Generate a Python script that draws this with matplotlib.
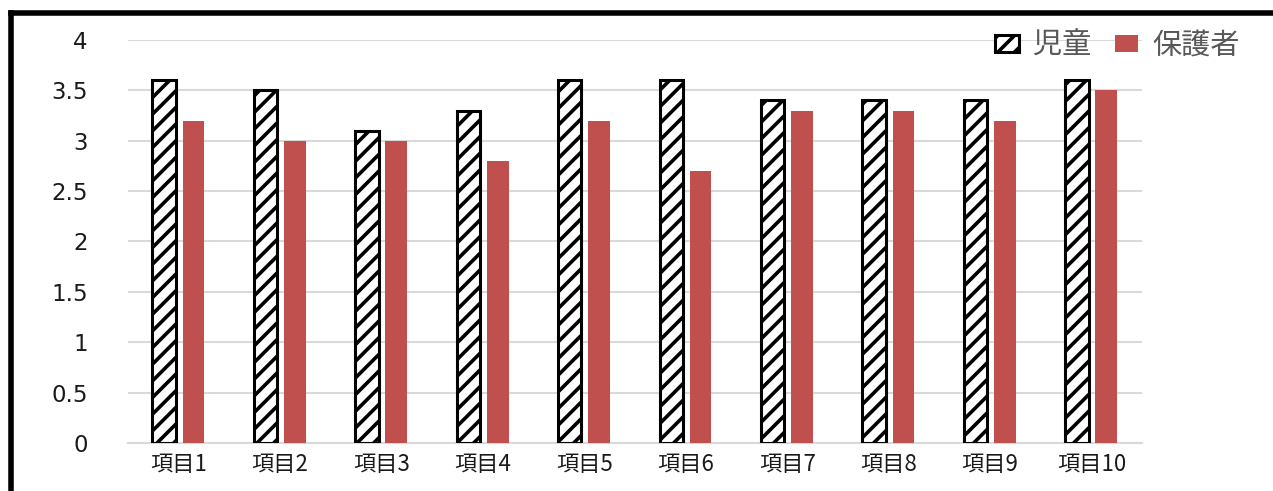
import matplotlib
matplotlib.use("Agg")
import matplotlib.pyplot as plt
import numpy as np
from matplotlib.lines import Line2D

plt.rcParams['font.family'] = ['Noto Sans CJK JP', 'DejaVu Sans']
plt.rcParams['hatch.linewidth'] = 2.6

categories = ["項目1", "項目2", "項目3", "項目4", "項目5", "項目6", "項目7", "項目8", "項目9", "項目10"]
children = [3.6, 3.5, 3.1, 3.3, 3.6, 3.6, 3.4, 3.4, 3.4, 3.6]
guardians = [3.2, 3.0, 3.0, 2.8, 3.2, 2.7, 3.3, 3.3, 3.2, 3.5]
series_names = ["児童", "保護者"]
yticks = [0, 0.5, 1, 1.5, 2, 2.5, 3, 3.5, 4]
ytick_labels = ["0", "0.5", "1", "1.5", "2", "2.5", "3", "3.5", "4"]

fig = plt.figure(figsize=(12.73, 4.91), dpi=100)
ax = fig.add_axes([0.1006, 0.0978, 0.7967, 0.8207])

x = np.arange(len(categories))
w = 0.23
ax.bar(x - 0.145, children, width=w, facecolor="white", edgecolor="black",
       linewidth=2.2, hatch="//", label=series_names[0], zorder=3)
ax.bar(x + 0.145, guardians, width=0.215, color="#C0504D", label=series_names[1], zorder=3)

ax.set_xlim(-0.5, len(categories) - 0.5)
ax.set_ylim(0, 4)
ax.set_yticks(yticks)
ax.set_yticklabels(ytick_labels, fontsize=16.5, family=['DejaVu Sans'], color="#1a1a1a")
ax.set_xticks(x)
ax.set_xticklabels(categories, fontsize=16, color="#1a1a1a")
ax.tick_params(axis='y', length=0, pad=29)
ax.tick_params(axis='x', length=0, pad=7)
ax.yaxis.grid(True, color="#d9d9d9", linewidth=1.5, zorder=0)
for s in ["left", "right", "top"]:
    ax.spines[s].set_visible(False)
ax.spines["bottom"].set_color("#d9d9d9")
ax.spines["bottom"].set_linewidth(1.5)

leg = fig.legend(loc="center right", bbox_to_anchor=(1240/1273, 1 - 46/491), ncol=2, frameon=False,
                 fontsize=21, handlelength=0.8, handleheight=0.55, handletextpad=0.5,
                 columnspacing=0.8, borderaxespad=0, borderpad=0)
for t in leg.get_texts():
    t.set_color("#595959")

# figure frame lines (left and top)
fig.add_artist(Line2D([10.5/1273, 10.5/1273], [0, 1 - 12.5/491], transform=fig.transFigure,
                      color="black", linewidth=4, solid_capstyle="projecting"))
fig.add_artist(Line2D([10.5/1273, 1], [1 - 12.5/491, 1 - 12.5/491], transform=fig.transFigure,
                      color="black", linewidth=4, solid_capstyle="projecting"))

fig.savefig("out.png", dpi=100)
